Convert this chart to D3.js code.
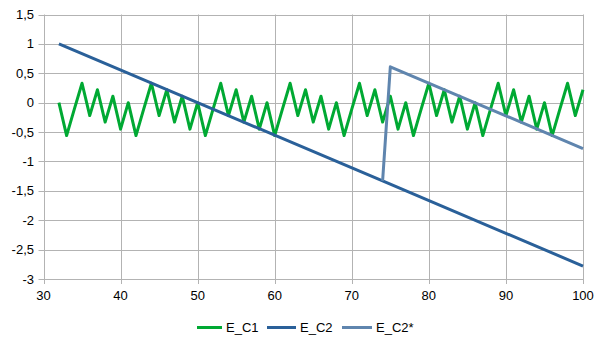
<!DOCTYPE html>
<html>
<head>
<meta charset="utf-8">
<script src="https://cdn.jsdelivr.net/npm/d3@7"></script>
<style>
  html, body { margin: 0; padding: 0; background: #fff; }
  svg { display: block; font-family: "Liberation Sans", Arial, sans-serif; }
</style>
</head>
<body>
<svg id="chart" width="605" height="340"></svg>
<script>
// E_C1: oscillating series, one value per integer x from 32 to 100
const c1X = d3.range(32, 101);
const c1Values = [
  0, -0.56, -0.11, 0.33, -0.22, 0.22, -0.33, 0.11, -0.45,
  0, -0.56, -0.11, 0.33, -0.22, 0.22, -0.33, 0.11, -0.45,
  0, -0.56, -0.11, 0.33, -0.22, 0.22, -0.33, 0.11, -0.45,
  0, -0.56, -0.11, 0.33, -0.22, 0.22, -0.33, 0.11, -0.45,
  0, -0.56, -0.11, 0.33, -0.22, 0.22, -0.33, 0.11, -0.45,
  0, -0.56, -0.11, 0.33, -0.22, 0.22, -0.33, 0.11, -0.45,
  0, -0.56, -0.11, 0.33, -0.22, 0.22, -0.33, 0.11, -0.45,
  0, -0.56, -0.11, 0.33, -0.22, 0.22
];

// E_C2: straight decline
const c2X = [32, 74, 100];
const c2Values = [1.0, -1.33, -2.78];

// E_C2*: jump at x = 74..75, then same slope as E_C2
const c2sX = [74, 75, 100];
const c2sValues = [-1.33, 0.61, -0.78];

const xTicks = [30, 40, 50, 60, 70, 80, 90, 100];
const yTicks = [-3, -2.5, -2, -1.5, -1, -0.5, 0, 0.5, 1, 1.5];

const seriesNames = ["E_C1", "E_C2", "E_C2*"];
const seriesColors = ["#00a933", "#2a6099", "#5f85ae"];

const svg = d3.select("#chart");
const plotLeft = 43.5, plotRight = 583, plotTop = 14.5, plotBottom = 279;

const x = d3.scaleLinear().domain([30, 100]).range([plotLeft, plotRight]);
const y = d3.scaleLinear().domain([-3, 1.5]).range([plotBottom, plotTop]);

const locale = d3.formatLocale({ decimal: ",", thousands: ".", grouping: [3], currency: ["", ""], minus: "-" });
const fmt = locale.format("~g");

// grid
const grid = svg.append("g");
grid.selectAll("line.h").data(yTicks).join("line")
  .attr("x1", plotLeft - 5).attr("x2", plotRight)
  .attr("y1", d => Math.round(y(d)) + 0.5).attr("y2", d => Math.round(y(d)) + 0.5)
  .attr("stroke", "#b3b3b3").attr("stroke-width", 1);
grid.selectAll("line.v").data(xTicks).join("line")
  .attr("y1", plotTop).attr("y2", plotBottom + 5)
  .attr("x1", d => Math.round(x(d)) + 0.5).attr("x2", d => Math.round(x(d)) + 0.5)
  .attr("stroke", "#b3b3b3").attr("stroke-width", 1);

// tick labels
svg.append("g").selectAll("text").data(yTicks).join("text")
  .attr("x", 34).attr("y", d => y(d) + 4.5)
  .attr("text-anchor", "end").attr("font-size", 13).attr("fill", "#000")
  .text(d => fmt(d));
svg.append("g").selectAll("text").data(xTicks).join("text")
  .attr("x", d => x(d)).attr("y", 300)
  .attr("text-anchor", "middle").attr("font-size", 13).attr("fill", "#000")
  .text(d => fmt(d));

// series, drawn in order so E_C2* ends on top
const line = d3.line().x(d => x(d[0])).y(d => y(d[1]));
const series = [
  d3.zip(c1X, c1Values),
  d3.zip(c2X, c2Values),
  d3.zip(c2sX, c2sValues)
];
const plot = svg.append("g");
series.forEach((pts, i) => {
  plot.append("path")
    .attr("d", line(pts))
    .attr("fill", "none")
    .attr("stroke", seriesColors[i])
    .attr("stroke-width", 3)
    .attr("stroke-linejoin", "round");
});

// legend
const legendItems = [
  { x1: 197, x2: 222, tx: 226 },
  { x1: 267, x2: 296, tx: 300 },
  { x1: 342, x2: 372, tx: 376 }
];
const lg = svg.append("g");
legendItems.forEach((it, i) => {
  lg.append("line")
    .attr("x1", it.x1).attr("x2", it.x2).attr("y1", 327.5).attr("y2", 327.5)
    .attr("stroke", seriesColors[i]).attr("stroke-width", 3);
  lg.append("text")
    .attr("x", it.tx).attr("y", 332)
    .attr("font-size", 13).attr("fill", "#000")
    .text(seriesNames[i]);
});
</script>
</body>
</html>
